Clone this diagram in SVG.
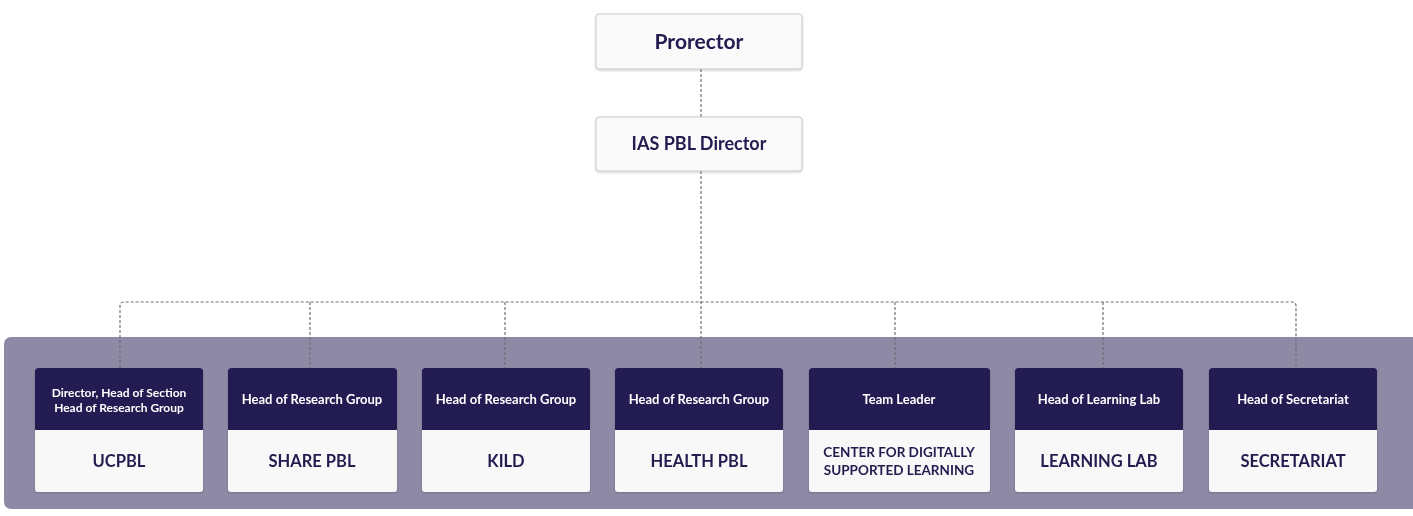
<svg xmlns="http://www.w3.org/2000/svg" width="1413" height="516" viewBox="0 0 1413 516">
<defs>
<style>
.top{fill:#fafafa;stroke:#c9c9cf;stroke-width:1}
.hd{fill:#221a52}
.bd{fill:#f8f8f9}
.t1{font-family:Lato,"Open Sans",sans-serif;font-weight:700;font-size:18px;fill:#221a4f;text-anchor:middle}
.t2{font-family:Lato,"Open Sans",sans-serif;font-weight:700;font-size:16.5px;fill:#221a4f;text-anchor:middle}
.t3{font-family:Lato,"Open Sans",sans-serif;font-weight:700;font-size:13.5px;fill:#221a4f;text-anchor:middle}
.h{font-family:Lato,"Open Sans",sans-serif;font-weight:700;font-size:13px;fill:#ffffff;text-anchor:middle}
.h2{font-family:Lato,"Open Sans",sans-serif;font-weight:700;font-size:12px;fill:#ffffff;text-anchor:middle}
.c{fill:none;stroke:#6e6e78;stroke-width:1.2;stroke-dasharray:3 2}
</style>
<filter id="sh" x="-10%" y="-10%" width="120%" height="130%">
<feDropShadow dx="0" dy="1" stdDeviation="1.2" flood-color="#000" flood-opacity="0.2"/>
</filter>
</defs>
<rect width="1413" height="516" fill="#ffffff"/>
<rect id="panel" x="4" y="337" width="1415" height="172" rx="7" fill="#8e8aa6"/>
<g id="connectors">
<path class="c" d="M701 69 V117"/>
<path class="c" d="M701 171 V368"/>
<path class="c" d="M120 368 V306 Q120 302 124 302 H1292 Q1296 302 1296 306 V368"/>
<path class="c" d="M310 302 V368"/>
<path class="c" d="M505 302 V368"/>
<path class="c" d="M895 302 V368"/>
<path class="c" d="M1103 302 V368"/>
</g>
<g id="prorector" filter="url(#sh)">
<rect class="top" x="596" y="14" width="206" height="55" rx="3"/>
<text class="t1" x="699" y="49" style="font-size:21px">Prorector</text>
</g>
<g id="ias" filter="url(#sh)">
<rect class="top" x="596" y="117" width="206" height="54" rx="3"/>
<text class="t1" x="699" y="150">IAS PBL Director</text>
</g>
<g id="ucpbl" filter="url(#sh)">
<rect class="bd" x="35" y="368" width="168" height="124" rx="3"/>
<path class="hd" d="M35 430 V371 Q35 368 38 368 H200 Q203 368 203 371 V430 Z"/>
<text class="h2" x="119" y="397">Director, Head of Section</text>
<text class="h2" x="119" y="412">Head of Research Group</text>
<text class="t2" x="119" y="467">UCPBL</text>
</g>
<g id="sharepbl" filter="url(#sh)">
<rect class="bd" x="228" y="368" width="169" height="124" rx="3"/>
<path class="hd" d="M228 430 V371 Q228 368 231 368 H394 Q397 368 397 371 V430 Z"/>
<text class="h" x="312" y="404">Head of Research Group</text>
<text class="t2" x="312" y="467">SHARE PBL</text>
</g>
<g id="kild" filter="url(#sh)">
<rect class="bd" x="422" y="368" width="168" height="124" rx="3"/>
<path class="hd" d="M422 430 V371 Q422 368 425 368 H587 Q590 368 590 371 V430 Z"/>
<text class="h" x="506" y="404">Head of Research Group</text>
<text class="t2" x="506" y="467">KILD</text>
</g>
<g id="healthpbl" filter="url(#sh)">
<rect class="bd" x="615" y="368" width="168" height="124" rx="3"/>
<path class="hd" d="M615 430 V371 Q615 368 618 368 H780 Q783 368 783 371 V430 Z"/>
<text class="h" x="699" y="404">Head of Research Group</text>
<text class="t2" x="699" y="467">HEALTH PBL</text>
</g>
<g id="cdsl" filter="url(#sh)">
<rect class="bd" x="809" y="368" width="181" height="124" rx="3"/>
<path class="hd" d="M809 430 V371 Q809 368 812 368 H987 Q990 368 990 371 V430 Z"/>
<text class="h" x="899" y="404">Team Leader</text>
<text class="t3" x="899" y="457">CENTER FOR DIGITALLY</text>
<text class="t3" x="899" y="475">SUPPORTED LEARNING</text>
</g>
<g id="learninglab" filter="url(#sh)">
<rect class="bd" x="1015" y="368" width="168" height="124" rx="3"/>
<path class="hd" d="M1015 430 V371 Q1015 368 1018 368 H1180 Q1183 368 1183 371 V430 Z"/>
<text class="h" x="1099" y="404">Head of Learning Lab</text>
<text class="t2" x="1099" y="467">LEARNING LAB</text>
</g>
<g id="secretariat" filter="url(#sh)">
<rect class="bd" x="1209" y="368" width="168" height="124" rx="3"/>
<path class="hd" d="M1209 430 V371 Q1209 368 1212 368 H1374 Q1377 368 1377 371 V430 Z"/>
<text class="h" x="1293" y="404">Head of Secretariat</text>
<text class="t2" x="1293" y="467">SECRETARIAT</text>
</g>
</svg>
